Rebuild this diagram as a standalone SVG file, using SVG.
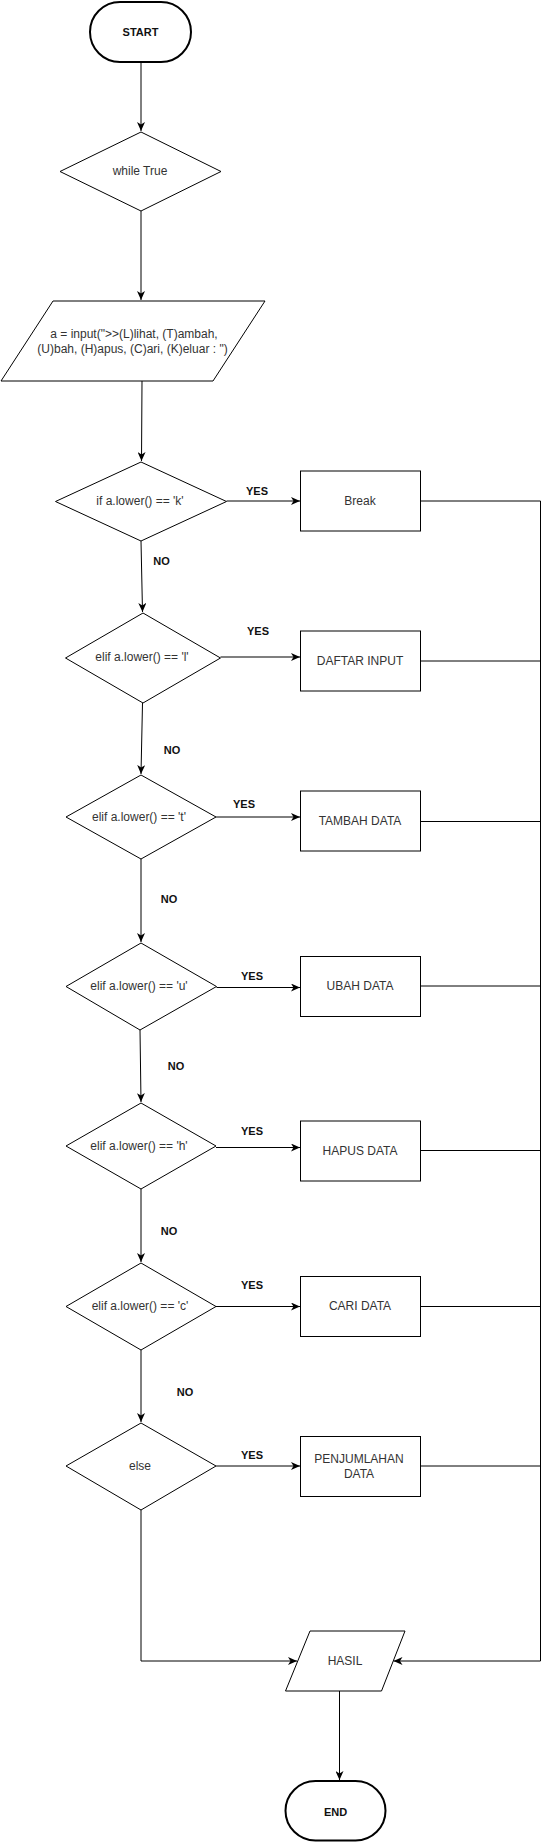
<svg xmlns="http://www.w3.org/2000/svg" width="550" height="1842" viewBox="0 0 550 1842">
<style>
.shape{fill:#fff;stroke:#000;stroke-width:1}
.term{fill:#fff;stroke:#000;stroke-width:2}
.t{font-family:"Liberation Sans",Arial,sans-serif;font-size:12px;fill:#333;text-anchor:middle}
.b{font-family:"Liberation Sans",Arial,sans-serif;font-size:11px;font-weight:bold;fill:#111;text-anchor:middle}
.c{fill:none;stroke:#000;stroke-width:1}
</style>
<defs>
<marker id="arr" markerUnits="userSpaceOnUse" markerWidth="10" markerHeight="8" refX="9" refY="4" orient="auto">
<path d="M0,0 L9,4 L0,8 L2.5,4 Z" fill="#000"/>
</marker>
</defs>
<g id="connectors">
<path class="c" d="M141,62 V131" marker-end="url(#arr)"/>
<path class="c" d="M141,211 V300" marker-end="url(#arr)"/>
<path class="c" d="M142,381 L141.5,461" marker-end="url(#arr)"/>
<path class="c" d="M141,541 L142.5,612" marker-end="url(#arr)"/>
<path class="c" d="M142.5,703 L141,774" marker-end="url(#arr)"/>
<path class="c" d="M141,859 V942" marker-end="url(#arr)"/>
<path class="c" d="M140,1030 L141,1102" marker-end="url(#arr)"/>
<path class="c" d="M141,1189 V1262" marker-end="url(#arr)"/>
<path class="c" d="M141,1350 V1422" marker-end="url(#arr)"/>
<path class="c" d="M141,1510 V1661 H297" marker-end="url(#arr)"/>
<path class="c" d="M226.5,501 H300" marker-end="url(#arr)"/>
<path class="c" d="M220.5,657 H300" marker-end="url(#arr)" style="stroke:#555;stroke-width:1.5"/>
<path class="c" d="M216,817 H300" marker-end="url(#arr)"/>
<path class="c" d="M216.5,987.5 H300" marker-end="url(#arr)"/>
<path class="c" d="M216,1147.5 H300" marker-end="url(#arr)"/>
<path class="c" d="M216,1306.5 H300" marker-end="url(#arr)"/>
<path class="c" d="M216,1466 H300" marker-end="url(#arr)"/>
<path class="c" d="M420.5,501 H540.5 M420.5,661 H540.5 M420.5,821.5 H540.5 M420.5,986 H540.5 M420.5,1150.5 H540.5 M420.5,1306.5 H540.5 M420.5,1466 H540.5"/>
<path class="c" d="M540.5,501 V1661 H393.5" marker-end="url(#arr)"/>
<path class="c" d="M339.5,1691 V1780" marker-end="url(#arr)"/>
<text class="b" x="257" y="495">YES</text>
<text class="b" x="258" y="635">YES</text>
<text class="b" x="244" y="808">YES</text>
<text class="b" x="252" y="980">YES</text>
<text class="b" x="252" y="1135">YES</text>
<text class="b" x="252" y="1289">YES</text>
<text class="b" x="252" y="1459">YES</text>
<text class="b" x="161.5" y="565">NO</text>
<text class="b" x="172" y="754">NO</text>
<text class="b" x="169" y="903">NO</text>
<text class="b" x="176" y="1070">NO</text>
<text class="b" x="169" y="1235">NO</text>
<text class="b" x="185" y="1396">NO</text>
</g>
<g id="start">
<rect class="term" x="90" y="2" width="101" height="60" rx="30" ry="30"/>
<text class="b" x="140.5" y="36">START</text>
</g>
<g id="while">
<polygon class="shape" points="141,132 221,171.5 141,211 60,171.5"/>
<text class="t" x="140" y="175">while True</text>
</g>
<g id="input">
<polygon class="shape" points="53,301 265,301 213,381 1,381"/>
<text class="t" x="134" y="337.5">a = input("&gt;&gt;(L)lihat, (T)ambah,</text>
<text class="t" x="132.5" y="352.5">(U)bah, (H)apus, (C)ari, (K)eluar : ")</text>
</g>
<g id="if-k">
<polygon class="shape" points="141,462 226.5,501.5 141,541 55.5,501.5"/>
<text class="t" x="140" y="505">if a.lower() == 'k'</text>
</g>
<g id="elif-l">
<polygon class="shape" points="143,613 220.5,658 143,703 65.5,658"/>
<text class="t" x="142" y="661">elif a.lower() == 'l'</text>
</g>
<g id="elif-t">
<polygon class="shape" points="141,775 216,817 141,859 66,817"/>
<text class="t" x="139" y="821">elif a.lower() == 't'</text>
</g>
<g id="elif-u">
<polygon class="shape" points="141,943 216.5,986.5 140,1030 66,986.5"/>
<text class="t" x="139" y="990">elif a.lower() == 'u'</text>
</g>
<g id="elif-h">
<polygon class="shape" points="141,1103 216,1146 141,1189 66,1146"/>
<text class="t" x="139" y="1150">elif a.lower() == 'h'</text>
</g>
<g id="elif-c">
<polygon class="shape" points="141,1263 216,1306.5 141,1350 66,1306.5"/>
<text class="t" x="140" y="1310">elif a.lower() == 'c'</text>
</g>
<g id="else">
<polygon class="shape" points="141,1423 216,1466 141,1510 66,1466"/>
<text class="t" x="140" y="1470">else</text>
</g>
<g id="break">
<rect class="shape" x="300.5" y="471" width="120" height="60"/>
<text class="t" x="360" y="505">Break</text>
</g>
<g id="daftar">
<rect class="shape" x="300.5" y="631" width="120" height="60"/>
<text class="t" x="360" y="665">DAFTAR INPUT</text>
</g>
<g id="tambah">
<rect class="shape" x="300.5" y="791" width="120" height="60"/>
<text class="t" x="360" y="825">TAMBAH DATA</text>
</g>
<g id="ubah">
<rect class="shape" x="300.5" y="956.5" width="120" height="60"/>
<text class="t" x="360" y="990">UBAH DATA</text>
</g>
<g id="hapus">
<rect class="shape" x="300.5" y="1121" width="120" height="60"/>
<text class="t" x="360" y="1155">HAPUS DATA</text>
</g>
<g id="cari">
<rect class="shape" x="300.5" y="1276.5" width="120" height="60"/>
<text class="t" x="360" y="1310">CARI DATA</text>
</g>
<g id="penjumlahan">
<rect class="shape" x="300.5" y="1436.5" width="120" height="60"/>
<text class="t" x="359" y="1463">PENJUMLAHAN</text>
<text class="t" x="359" y="1477.5">DATA</text>
</g>
<g id="hasil">
<polygon class="shape" points="310,1631 405,1631 381.5,1691 285.5,1691"/>
<text class="t" x="345" y="1665">HASIL</text>
</g>
<g id="end">
<rect class="term" x="285.5" y="1781" width="100" height="59.5" rx="30" ry="30"/>
<text class="b" x="335.5" y="1816">END</text>
</g>
</svg>
